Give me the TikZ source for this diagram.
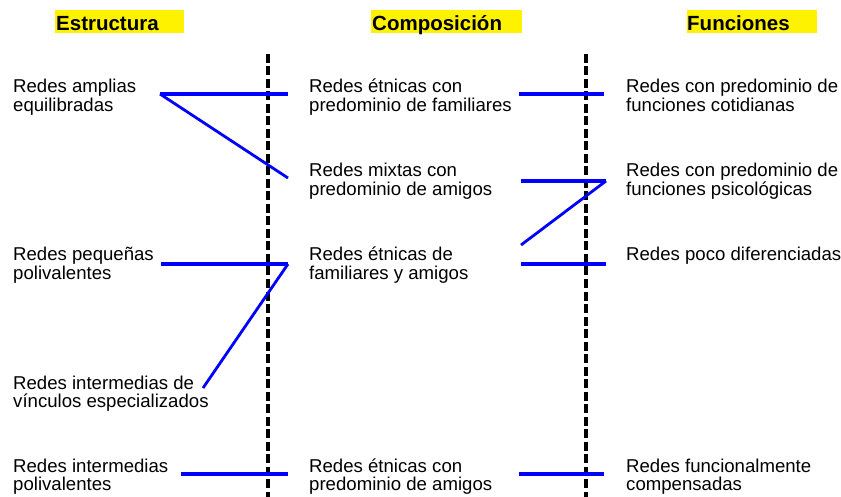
\documentclass[tikz,border=0pt]{standalone}
\usepackage{fontspec}
\setmainfont{Liberation Sans}

\begin{document}
\begin{tikzpicture}[x=1pt,y=-1pt,
    txt/.style={anchor=base west,align=left,inner sep=0pt,font=\fontsize{18.6}{18.5}\selectfont},
    head/.style={anchor=base west,inner sep=0pt,font=\fontsize{20.5}{22}\selectfont\bfseries},
    hl/.style={fill=yellow,draw=none},
    sep/.style={line width=3.3pt,dash pattern=on 9pt off 3.5pt},
    link/.style={blue,line width=4.6pt},
    slant/.style={blue,line width=2.8pt}]
  \useasboundingbox (0,0) rectangle (841,497);
  % headings
  \fill[hl] (55,10) rectangle (184,33);
  \fill[hl] (371,10) rectangle (522,33);
  \fill[hl] (687,10) rectangle (817,33);
  \node[head] (h1) at (56,31) {Estructura};
  \node[head] (h2) at (372,31) {Composición};
  \node[head] (h3) at (687,31) {Funciones};
  % separators
  \draw[sep] (268,54) -- (268,497);
  \draw[sep] (586,54) -- (586,497);
  % left column (base = last line)
  \node[txt] (a1) at (13,111.5) {Redes amplias\\equilibradas};
  \node[txt] (a2) at (13,279.5) {Redes pequeñas\\polivalentes};
  \node[txt] (a3) at (13,407.5) {Redes intermedias de\\vínculos especializados};
  \node[txt] (a4) at (13,490.5) {Redes intermedias\\polivalentes};
  % middle column
  \node[txt] (b1) at (309,111.5) {Redes étnicas con\\predominio de familiares};
  \node[txt] (b2) at (309,195.5) {Redes mixtas con\\predominio de amigos};
  \node[txt] (b3) at (309,279.5) {Redes étnicas de\\familiares y amigos};
  \node[txt] (b4) at (309,490.5) {Redes étnicas con\\predominio de amigos};
  % right column
  \node[txt] (c1) at (626,111.5) {Redes con predominio de\\funciones cotidianas};
  \node[txt] (c2) at (626,195.5) {Redes con predominio de\\funciones psicológicas};
  \node[txt] (c3) at (626,261) {Redes poco diferenciadas};
  \node[txt] (c4) at (626,490.5) {Redes funcionalmente\\compensadas};
  % connector ends
  \coordinate (a1r) at (160,94);
  \coordinate (a2r) at (161,264);
  \coordinate (a3r) at (203,388);
  \coordinate (a4r) at (181,474);
  \coordinate (b1l) at (288,94);
  \coordinate (b2l) at (288,178);
  \coordinate (b3l) at (288,264);
  \coordinate (b4l) at (288,474);
  \coordinate (b1r) at (519,94);
  \coordinate (b2r) at (521,181);
  \coordinate (b3r) at (521,264);
  \coordinate (b3t) at (521,245);
  \coordinate (b4r) at (519,474);
  \coordinate (c1l) at (604,94);
  \coordinate (c2l) at (606,181);
  \coordinate (c3l) at (606,264);
  \coordinate (c4l) at (604,474);
  % connectors
  \draw[link] (a1r) -- (b1l);
  \draw[slant] (a1r) -- (b2l);
  \draw[link] (a2r) -- (b3l);
  \draw[slant] (b3l) -- (a3r);
  \draw[link] (a4r) -- (b4l);
  \draw[link] (b1r) -- (c1l);
  \draw[link] (b2r) -- (c2l);
  \draw[slant] (c2l) -- (b3t);
  \draw[link] (b3r) -- (c3l);
  \draw[link] (b4r) -- (c4l);
\end{tikzpicture}
\end{document}
